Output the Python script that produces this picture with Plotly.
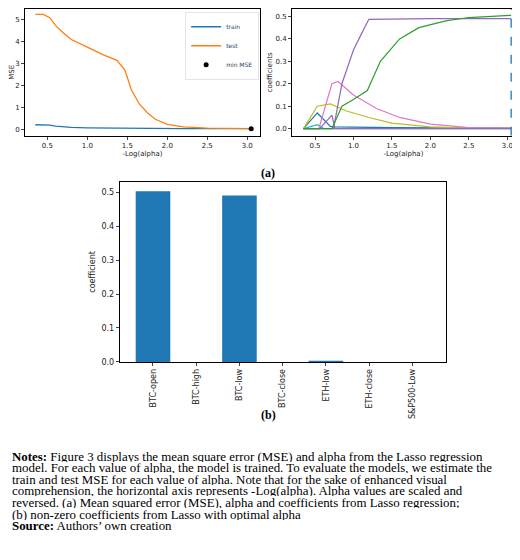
import plotly.graph_objects as go

# ---- data ----
mse_x = [0.35, 0.45, 0.53, 0.6, 0.7, 0.8, 1.0, 1.2, 1.37, 1.47, 1.55, 1.65, 1.75, 1.85, 2.0, 2.2, 2.5, 2.8, 3.05]
test_mse = [5.25, 5.25, 5.1, 4.75, 4.4, 4.1, 3.75, 3.4, 3.15, 2.7, 1.8, 1.15, 0.75, 0.45, 0.22, 0.1, 0.04, 0.025, 0.02]
train_mse = [0.2, 0.2, 0.18, 0.14, 0.1, 0.08, 0.06, 0.05, 0.045, 0.04, 0.04, 0.035, 0.035, 0.03, 0.03, 0.025, 0.02, 0.02, 0.02]
min_x, min_mse = 3.05, 0.02

c_green_x = [0.35, 0.72, 0.85, 1.0, 1.18, 1.35, 1.6, 1.85, 2.2, 2.5, 3.05]
c_green = [0, 0, 0.1, 0.13, 0.17, 0.3, 0.4, 0.45, 0.48, 0.495, 0.505]
c_purple_x = [0.35, 0.74, 0.85, 1.0, 1.1, 1.2, 2.0, 3.05]
c_purple = [0, 0, 0.2, 0.35, 0.42, 0.487, 0.49, 0.49]
c_purple2_x = [0.35, 0.56, 0.72, 0.76, 3.05]
c_purple2 = [0, 0, 0.06, 0, 0]
c_pink_x = [0.35, 0.55, 0.72, 0.8, 1.0, 1.3, 1.6, 2.0, 2.5, 3.05]
c_pink = [0, 0, 0.2, 0.21, 0.15, 0.09, 0.05, 0.02, 0.005, 0.002]
c_olive_x = [0.35, 0.53, 0.7, 0.9, 1.2, 1.5, 2.0, 2.5, 3.05]
c_olive = [0, 0.1, 0.11, 0.08, 0.05, 0.025, 0.008, 0.003, 0.002]
c_blue_x = [0.35, 0.53, 0.7, 0.75, 1.5, 3.05]
c_blue = [0, 0.07, 0.01, 0.008, 0.005, 0.003]
c_cyan_x = [0.35, 0.53, 0.62, 3.05]
c_cyan = [0, 0.018, 0, 0]
opt_x = 3.05

features = ["BTC-open", "BTC-high", "BTC-low", "BTC-close", "ETH-low", "ETH-close", "S&P500-Low"]
coef = [0.503, 0, 0.491, 0, 0.003, 0, 0]

notes = [
    "<b>Notes:</b> Figure 3 displays the mean square error (MSE) and alpha from the Lasso regression",
    "model. For each value of alpha, the model is trained. To evaluate the models, we estimate the",
    "train and test MSE for each value of alpha. Note that for the sake of enhanced visual",
    "comprehension, the horizontal axis represents -Log(alpha). Alpha values are scaled and",
    "reversed. (a) Mean squared error (MSE), alpha and coefficients from Lasso regression;",
    "(b) non-zero coefficients from Lasso with optimal alpha",
    "<b>Source:</b> Authors’ own creation",
]

fig = go.Figure()
fig.add_trace(go.Scatter(x=mse_x, y=train_mse, mode="lines", name="train", line=dict(color="#1f77b4", width=1.3), xaxis="x", yaxis="y"))
fig.add_trace(go.Scatter(x=mse_x, y=test_mse, mode="lines", name="test", line=dict(color="#ff7f0e", width=1.3), xaxis="x", yaxis="y"))
fig.add_trace(go.Scatter(x=[min_x], y=[min_mse], mode="markers", name="min MSE", marker=dict(color="black", size=5), xaxis="x", yaxis="y"))

for xs, ys, col in [(c_blue_x, c_blue, "#1f77b4"), (c_cyan_x, c_cyan, "#17becf"), (c_olive_x, c_olive, "#bcbd22"),
                    (c_pink_x, c_pink, "#e377c2"), (c_purple2_x, c_purple2, "#9467bd"),
                    (c_purple_x, c_purple, "#9467bd"), (c_green_x, c_green, "#2ca02c")]:
    fig.add_trace(go.Scatter(x=xs, y=ys, mode="lines", showlegend=False, line=dict(color=col, width=1.2), xaxis="x2", yaxis="y2"))
fig.add_trace(go.Scatter(x=[opt_x, opt_x], y=[-0.031, 0.533], mode="lines", showlegend=False,
                         line=dict(color="#1f77b4", width=1.3, dash="dash"), xaxis="x2", yaxis="y2"))

fig.add_trace(go.Bar(x=features, y=coef, width=0.8, marker=dict(color="#1f77b4", line=dict(width=0)), showlegend=False, xaxis="x3", yaxis="y3"))

ax = dict(showline=True, mirror=True, linecolor="black", linewidth=0.8, ticks="outside", ticklen=3,
          tickfont=dict(size=7, color="#222"), showgrid=False, zeroline=False)
tf = dict(size=7, color="#222")
fig.update_layout(
    width=520, height=560, margin=dict(l=0, r=0, t=0, b=0),
    paper_bgcolor="white", plot_bgcolor="white", font=dict(family="DejaVu Sans"),
    xaxis=dict(ax, domain=[0.0327, 0.4846], range=[0.22, 3.16], tickvals=[0.5, 1.0, 1.5, 2.0, 2.5, 3.0], ticktext=["0.5","1.0","1.5","2.0","2.5","3.0"], title=dict(text="-Log(alpha)", font=tf, standoff=2)),
    yaxis=dict(ax, domain=[0.7714, 1.0], range=[-0.3, 5.5], dtick=1, title=dict(text="MSE", font=tf, standoff=2)),
    xaxis2=dict(ax, domain=[0.546, 0.975], range=[0.2, 3.1], tickvals=[0.5, 1.0, 1.5, 2.0, 2.5, 3.0], ticktext=["0.5","1.0","1.5","2.0","2.5","3.0"], title=dict(text="-Log(alpha)", font=tf, standoff=2), anchor="y2"),
    yaxis2=dict(ax, domain=[0.7714, 1.0], range=[-0.031, 0.533], tickvals=[0, 0.1, 0.2, 0.3, 0.4, 0.5], ticktext=["0.0","0.1","0.2","0.3","0.4","0.5"], title=dict(text="coefficients", font=tf, standoff=2), anchor="x2"),
    xaxis3=dict(ax, domain=[0.2148, 0.8417], range=[-0.77, 6.77], tickangle=-90, tickfont=dict(size=8, color="#222"), anchor="y3"),
    yaxis3=dict(ax, domain=[0.363, 0.688], range=[0, 0.531], tickvals=[0, 0.1, 0.2, 0.3, 0.4, 0.5], ticktext=["0.0","0.1","0.2","0.3","0.4","0.5"], tickfont=dict(size=8, color="#222"), title=dict(text="coefficient", font=dict(size=8, color="#222"), standoff=4), anchor="x3"),
    legend=dict(x=0.482, y=0.995, xanchor="right", yanchor="top", font=dict(size=6), bgcolor="white",
                bordercolor="#ccc", borderwidth=0.5, itemwidth=30, tracegroupgap=0, tracegroupgap_=None) if False else
           dict(x=0.482, y=0.995, xanchor="right", yanchor="top", font=dict(size=6), bgcolor="white",
                bordercolor="#ccc", borderwidth=0.5, itemwidth=30, tracegroupgap=0),
)

ann = [dict(text="<b>(a)</b>", x=0.5, y=1 - 157 / 560, xref="paper", yref="paper", showarrow=False, font=dict(family="Liberation Serif", size=12, color="black")),
       dict(text="<b>(b)</b>", x=0.5, y=1 - 419 / 560, xref="paper", yref="paper", showarrow=False, font=dict(family="Liberation Serif", size=12, color="black"))]
for i, line in enumerate(notes):
    ann.append(dict(text=line, x=0.004, y=1 - (452 + 11.7 * i) / 560, xref="paper", yref="paper", xanchor="left", yanchor="middle",
                    height=11, showarrow=False, font=dict(family="Liberation Serif", size=12.9, color="black")))
fig.update_layout(annotations=ann)

fig.write_html("out.html")
